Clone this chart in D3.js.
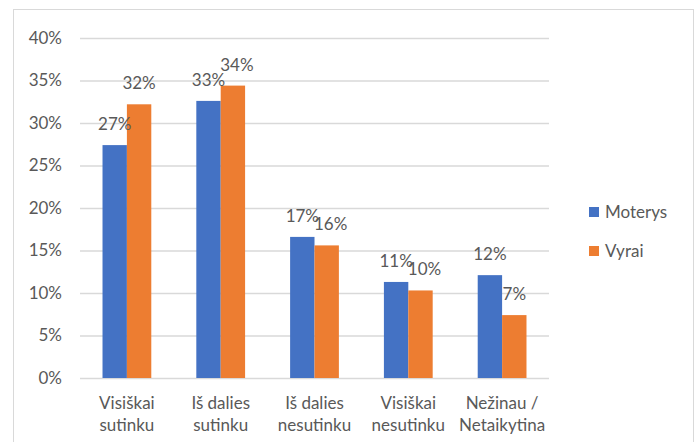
<!DOCTYPE html>
<html>
<head>
<meta charset="utf-8">
<script src="https://cdn.jsdelivr.net/npm/d3@7"></script>
<style>
  body { margin: 0; background: #fff; }
  text { font-family: Lato, "Open Sans", sans-serif; fill: #595959; }
</style>
</head>
<body>
<div id="chart"></div>
<script>
// chart data
const categories = [["Visiškai", "sutinku"], ["Iš dalies", "sutinku"], ["Iš dalies", "nesutinku"], ["Visiškai", "nesutinku"], ["Nežinau /", "Netaikytina"]];
const seriesNames = ["Moterys", "Vyrai"];
const moterys = [0.274, 0.326, 0.166, 0.113, 0.121];
const vyrai = [0.322, 0.344, 0.156, 0.103, 0.074];
const yTicks = [0, 0.05, 0.1, 0.15, 0.2, 0.25, 0.3, 0.35, 0.4];
const colors = ["#4472C4", "#ED7D31"];

const width = 695, height = 442;
const margin = { top: 38, left: 80, right: 146, bottom: 64 };
const fs = "17px";

const svg = d3.select("#chart").append("svg")
    .attr("width", width)
    .attr("height", height);

// outer frame
svg.append("rect")
    .attr("x", 13.5).attr("y", 9.5)
    .attr("width", 680).attr("height", 440)
    .attr("fill", "#fff")
    .attr("stroke", "#d9d9d9");

const x = d3.scaleBand()
    .domain(d3.range(categories.length))
    .range([margin.left, width - margin.right])
    .paddingInner(0.48)
    .paddingOuter(0.24);

const x1 = d3.scaleBand()
    .domain(d3.range(seriesNames.length))
    .range([0, x.bandwidth()]);

const y = d3.scaleLinear()
    .domain([0, 0.4])
    .range([height - margin.bottom, margin.top]);

// gridlines + y labels
const yAxis = d3.axisLeft(y)
    .tickValues(yTicks)
    .tickFormat(d3.format(".0%"))
    .tickSize(-(width - margin.right - margin.left))
    .tickPadding(18);

const gy = svg.append("g")
    .attr("transform", `translate(${margin.left},0)`)
    .call(yAxis);
gy.select(".domain").remove();
gy.selectAll(".tick line").attr("stroke", "#d9d9d9").attr("stroke-width", 1.5);
gy.selectAll(".tick text").style("font-size", fs).attr("fill", "#595959");

// bars
const data = categories.map((c, i) => [moterys[i], vyrai[i]]);
const groups = svg.append("g").selectAll("g")
    .data(data)
    .join("g")
    .attr("transform", (d, i) => `translate(${x(i)},0)`);

groups.selectAll("rect")
    .data(d => d)
    .join("rect")
    .attr("x", (d, j) => x1(j))
    .attr("y", d => y(d))
    .attr("width", x1.bandwidth())
    .attr("height", d => y(0) - y(d))
    .attr("fill", (d, j) => colors[j]);

// value labels; nudge the second one right when the pair sits close together
groups.each(function (pair) {
    const close = Math.abs(y(pair[0]) - y(pair[1])) < 16;
    d3.select(this).selectAll("text.val")
        .data(pair)
        .join("text")
        .attr("class", "val")
        .attr("x", (d, j) => x1(j) + x1.bandwidth() / 2 + (j === 1 && close ? 4 : 0))
        .attr("y", d => y(d) - 21)
        .attr("dy", "0.35em")
        .attr("text-anchor", "middle")
        .style("font-size", fs)
        .text(d => Math.round(d * 100) + "%");
});

// category labels
const xl = svg.append("g").selectAll("text")
    .data(categories)
    .join("text")
    .attr("text-anchor", "middle")
    .attr("x", (d, i) => x(i) + x.bandwidth() / 2)
    .attr("y", 403)
    .style("font-size", fs);
xl.selectAll("tspan")
    .data(d => d)
    .join("tspan")
    .attr("x", function () { return this.parentNode.getAttribute("x"); })
    .attr("dy", (d, k) => k === 0 ? "0.35em" : "22px")
    .text(d => d);

// legend
const legend = svg.append("g").selectAll("g")
    .data(seriesNames)
    .join("g")
    .attr("transform", (d, i) => `translate(589,${212 + i * 39})`);
legend.append("rect")
    .attr("x", 0).attr("y", -5)
    .attr("width", 10).attr("height", 10)
    .attr("fill", (d, i) => colors[i]);
legend.append("text")
    .attr("x", 16)
    .attr("dy", "0.35em")
    .style("font-size", fs)
    .text(d => d);
</script>
</body>
</html>
